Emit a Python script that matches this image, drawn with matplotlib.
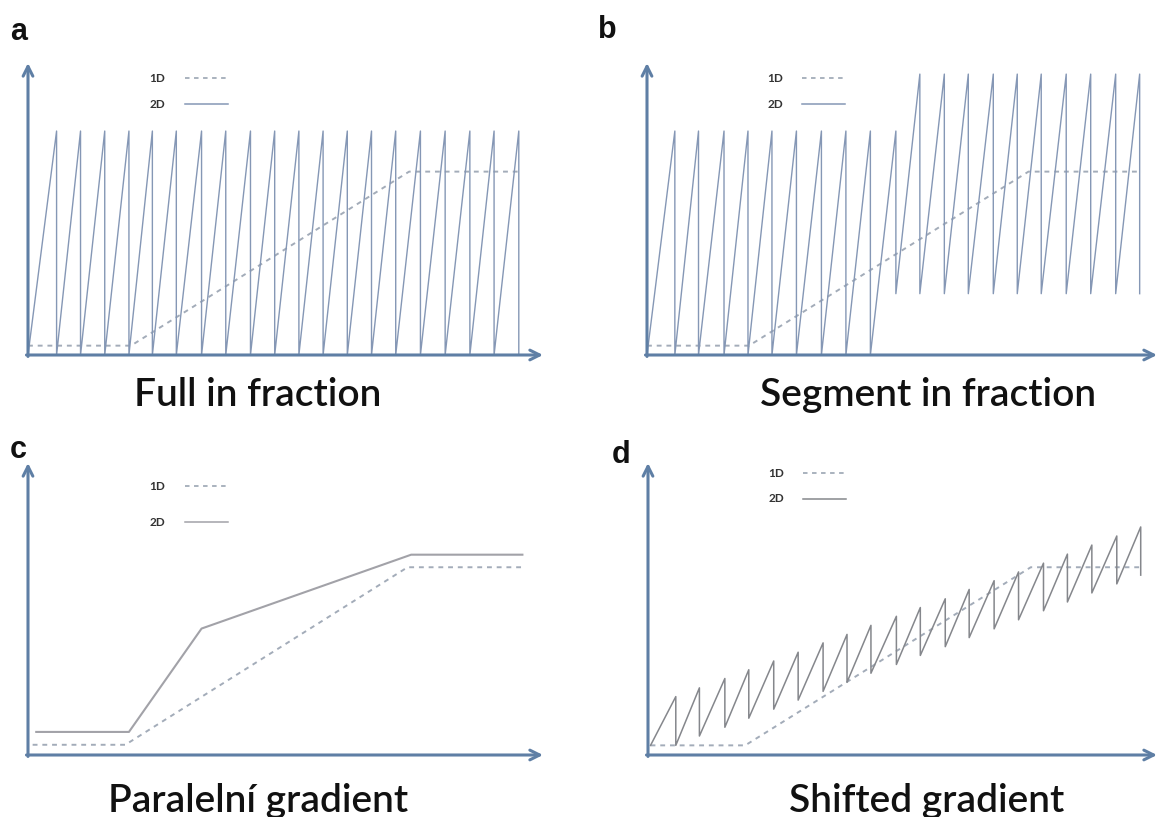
import matplotlib
matplotlib.use('Agg')
import matplotlib.pyplot as plt

# all values are fractions of the axis length (origin -> arrow tip)

# panel a: full in fraction
a_peak_x = [0.0555, 0.102, 0.149, 0.196, 0.2415, 0.288, 0.337, 0.384, 0.432, 0.479,
            0.526, 0.573, 0.620, 0.667, 0.714, 0.762, 0.810, 0.858, 0.905, 0.953]
a_peak_y = 0.767
a_1d_x = [0.0, 0.20, 0.740, 0.957]
a_1d_y = [0.032, 0.032, 0.628, 0.628]

# panel b: segment in fraction
b_low_peak_x = [0.0546, 0.101, 0.151, 0.198, 0.245, 0.293, 0.342, 0.390, 0.438, 0.488]
b_high_peak_x = [0.535, 0.583, 0.630, 0.679, 0.726, 0.773, 0.822, 0.870, 0.919, 0.966]
b_low_peak_y = 0.767
b_high_peak_y = 0.962
b_high_trough_y = 0.21
b_1d_x = [0.0, 0.20, 0.748, 0.970]
b_1d_y = [0.032, 0.032, 0.628, 0.628]

# panel c: parallel gradient
c_2d_x = [0.016, 0.196, 0.337, 0.744, 0.960]
c_2d_y = [0.079, 0.079, 0.433, 0.686, 0.686]
c_1d_x = [0.009, 0.189, 0.737, 0.960]
c_1d_y = [0.035, 0.035, 0.643, 0.643]

# panel d: shifted gradient
d_peak_x = [0.0546, 0.101, 0.151, 0.198, 0.247, 0.295, 0.344, 0.391, 0.438, 0.488,
            0.535, 0.584, 0.631, 0.680, 0.728, 0.777, 0.824, 0.872, 0.921, 0.968]
d_peak_y = [0.200, 0.230, 0.262, 0.292, 0.322, 0.352, 0.384, 0.413, 0.444, 0.475,
            0.505, 0.535, 0.567, 0.597, 0.627, 0.657, 0.688, 0.719, 0.750, 0.781]
d_trough_y = [0.033, 0.065, 0.095, 0.126, 0.157, 0.188, 0.218, 0.249, 0.280, 0.310,
              0.341, 0.371, 0.402, 0.432, 0.463, 0.494, 0.524, 0.555, 0.586, 0.616]
d_start = (0.005, 0.033)
d_1d_x = [0.005, 0.191, 0.752, 0.968]
d_1d_y = [0.033, 0.033, 0.643, 0.643]

titles = ['Full in fraction', 'Segment in fraction', 'Paralelní gradient', 'Shifted gradient']
letters = ['a', 'b', 'c', 'd']

AXIS_COL = '#5f7fa5'
SAW_COL = '#8597b5'
DASH_COL = '#a3acb9'
W, H = 1157, 817

fig = plt.figure(figsize=(W / 100, H / 100), dpi=100)
fig.patch.set_facecolor('white')


def make_ax(x0, y0, w, h):
    # pixel box (origin at x0,y0 measured from top-left) -> axes
    ax = fig.add_axes([x0 / W, (H - y0) / H, w / W, h / H])
    ax.set_xlim(0, 1)
    ax.set_ylim(0, 1)
    ax.axis('off')
    arr = dict(arrowstyle='->,head_length=0.7,head_width=0.35', lw=2.2, color=AXIS_COL,
               shrinkA=0, shrinkB=0)
    ax.annotate('', xy=(1, 0), xytext=(-0.003, 0), xycoords='axes fraction', arrowprops=arr)
    ax.annotate('', xy=(0, 1), xytext=(0, -0.005), xycoords='axes fraction', arrowprops=arr)
    return ax


def legend(ax, y1, y2, col2):
    ax.text(0.267, y1, '1D', ha='right', va='center', fontsize=8.5, fontweight='bold',
            family='Lato', color='#333333')
    ax.text(0.267, y2, '2D', ha='right', va='center', fontsize=8.5, fontweight='bold',
            family='Lato', color='#333333')
    ax.plot([0.304, 0.389], [y1, y1], color=DASH_COL, lw=1.3, dashes=(2.5, 2.5))
    ax.plot([0.304, 0.389], [y2, y2], color=col2, lw=1.1)


def dashed(ax, xs, ys):
    ax.plot(xs, ys, color=DASH_COL, lw=1.4, dashes=(2.5, 2.5), clip_on=False)


# a
ax = make_ax(28, 355, 515, 292)
xs, ys = [0.0], [0.0]
for p in a_peak_x:
    xs += [p, p]
    ys += [a_peak_y, 0.0]
dashed(ax, a_1d_x, a_1d_y)
ax.plot(xs, ys, color=SAW_COL, lw=1.0, clip_on=False)
legend(ax, 0.948, 0.859, SAW_COL)

# b
ax = make_ax(647, 355, 510, 292)
xs, ys = [0.0], [0.0]
for i, p in enumerate(b_low_peak_x):
    xs += [p, p]
    ys += [b_low_peak_y, b_high_trough_y if i == len(b_low_peak_x) - 1 else 0.0]
for p in b_high_peak_x:
    xs += [p, p]
    ys += [b_high_peak_y, b_high_trough_y]
dashed(ax, b_1d_x, b_1d_y)
ax.plot(xs, ys, color=SAW_COL, lw=1.0, clip_on=False)
legend(ax, 0.948, 0.859, SAW_COL)

# c
ax = make_ax(28, 755, 515, 292)
dashed(ax, c_1d_x, c_1d_y)
ax.plot(c_2d_x, c_2d_y, color='#a2a2a8', lw=1.5, clip_on=False)
legend(ax, 0.921, 0.797, '#a2a2a8')

# d
ax = make_ax(648, 755, 509, 292)
xs, ys = [d_start[0]], [d_start[1]]
for p, hi, lo in zip(d_peak_x, d_peak_y, d_trough_y):
    xs += [p, p]
    ys += [hi, lo]
dashed(ax, d_1d_x, d_1d_y)
ax.plot(xs, ys, color='#85878c', lw=1.1, clip_on=False)
legend(ax, 0.965, 0.878, '#85878c')

# titles and panel letters
title_pos = [(258, 395), (928, 395), (258, 801), (927, 801)]
letter_pos = [(10, 32), (598, 30), (10, 450), (612, 455)]
for t, (tx, ty) in zip(titles, title_pos):
    fig.text(tx / W, 1 - ty / H, t, ha='center', va='center', fontsize=28,
             family='Lato', fontweight='semibold', color='#111111')
for l, (lx, ly) in zip(letters, letter_pos):
    fig.text(lx / W, 1 - ly / H, l, ha='left', va='center', fontsize=22,
             family='Liberation Sans', fontweight='bold', color='#111111')

fig.savefig('out.png', dpi=100, facecolor='white')
